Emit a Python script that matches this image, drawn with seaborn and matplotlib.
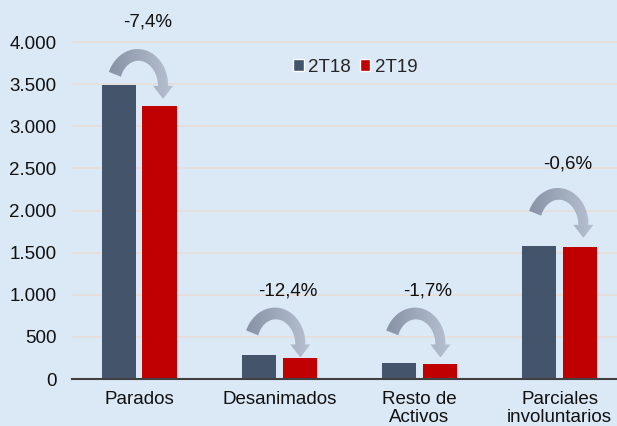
import numpy as np
import pandas as pd
import matplotlib
matplotlib.use("Agg")
import matplotlib.pyplot as plt
import matplotlib.transforms as mtransforms
import seaborn as sns
from matplotlib.patches import Polygon, Patch
from matplotlib.colors import LinearSegmentedColormap
from matplotlib.ticker import FuncFormatter

categories = ["Parados", "Desanimados", "Resto de\nActivos", "Parciales\ninvoluntarios"]
series = ["2T18", "2T19"]
v_2t18 = [3490, 285, 195, 1585]
v_2t19 = [3240, 250, 176, 1565]
changes = ["-7,4%", "-12,4%", "-1,7%", "-0,6%"]
yticks = [0, 500, 1000, 1500, 2000, 2500, 3000, 3500, 4000]

bg = "#dbe8f5"
colors = {"2T18": "#44546a", "2T19": "#c00000"}

df = pd.DataFrame({
    "cat": categories * 2,
    "serie": ["2T18"] * 4 + ["2T19"] * 4,
    "val": v_2t18 + v_2t19,
})

sns.set_theme(style="white")
plt.rcParams["font.family"] = ["Liberation Sans", "DejaVu Sans"]

fig = plt.figure(figsize=(6.17, 4.26), dpi=100, facecolor=bg)
ax = fig.add_axes([72 / 617, 47 / 426, 545 / 617, 379 / 426])
ax.set_facecolor(bg)

sns.barplot(data=df, x="cat", y="val", hue="serie", palette=colors,
            width=0.58, gap=0.16, ax=ax, saturation=1, legend=False, zorder=3,
            edgecolor="none", linewidth=0)

ax.set_xlim(-0.48, 3.41)
ax.set_ylim(0, 4500)
ax.set_yticks(yticks)
ax.yaxis.set_major_formatter(FuncFormatter(lambda v, p: f"{int(v):,}".replace(",", ".")))
ax.grid(axis="y", color="#e6dcd8", linewidth=1.2, zorder=0)
ax.set_axisbelow(True)
for s in ["top", "right", "left"]:
    ax.spines[s].set_visible(False)
ax.spines["bottom"].set_color("#404040")
ax.spines["bottom"].set_linewidth(1.5)
ax.spines["bottom"].set_zorder(5)
ax.tick_params(axis="y", length=0, pad=11, labelsize=13.5, labelcolor="#111111")
ax.tick_params(axis="x", length=0, pad=8.5, labelsize=13.5, labelcolor="#111111")
for lbl in ax.get_xticklabels():
    lbl.set_linespacing(1.12)
ax.set_xlabel("")
ax.set_ylabel("")

# legend
handles = [Patch(facecolor=colors[s], label=s) for s in series]
ax.legend(handles=handles, loc="center", bbox_to_anchor=(0.52, 0.823), ncol=2,
          frameon=False, handlelength=0.55, handleheight=0.55, handletextpad=0.25,
          columnspacing=0.45, fontsize=13.5)


def curved_arrow_shape(rx=25, ry=31, w0=13, w1=10, hw=20, hl=13, a0=158, n=60):
    """Curved arrow outline in pixel offsets (y up), anchored at head base centre."""
    t = np.linspace(np.radians(a0), 0, n)
    w = np.linspace(w0, w1, n)
    cx = -rx
    outer = np.column_stack([cx + (rx + w / 2) * np.cos(t), (ry + w / 2) * np.sin(t)])
    inner = np.column_stack([cx + (rx - w / 2) * np.cos(t), (ry - w / 2) * np.sin(t)])
    head = np.array([[hw / 2, 0], [0, -hl], [-hw / 2, 0]])
    return np.vstack([outer, head, inner[::-1]])


# arrows and change labels
arrow_x = [0.17, 0.15, 0.15, 0.17]
arrow_y = [3480, 410, 410, 1830]
label_y = [4235, 1050, 1050, 2555]
cmap = LinearSegmentedColormap.from_list("arr", ["#8893a6", "#b7c1d1"])
shape = curved_arrow_shape()
grad = np.linspace(0, 1, 64).reshape(1, -1)
for i in range(4):
    tr = mtransforms.Affine2D() + mtransforms.ScaledTranslation(i + arrow_x[i], arrow_y[i], ax.transData)
    poly = Polygon(shape, closed=True, transform=tr, facecolor="none",
                   edgecolor="none", zorder=4, clip_on=False)
    ax.add_patch(poly)
    disp = tr.transform(shape)
    dat = ax.transData.inverted().transform(disp)
    x0, x1 = dat[:, 0].min(), dat[:, 0].max()
    y0, y1 = dat[:, 1].min(), dat[:, 1].max()
    im = ax.imshow(grad, cmap=cmap, extent=(x0, x1, y0, y1), aspect="auto",
                   zorder=4, interpolation="bilinear")
    im.set_clip_path(poly)
    ax.text(i + 0.06, label_y[i], changes[i], ha="center", va="center",
            fontsize=13.5, color="#111111", zorder=5)

ax.set_xlim(-0.48, 3.41)
ax.set_ylim(0, 4500)

fig.savefig("out.png", dpi=100, facecolor=bg)
